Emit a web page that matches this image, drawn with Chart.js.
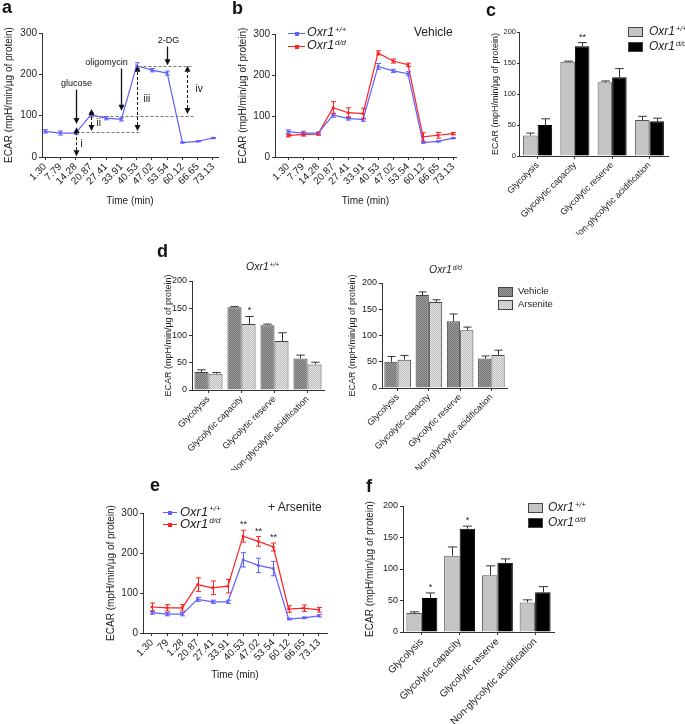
<!DOCTYPE html>
<html>
<head>
<meta charset="utf-8">
<script src="https://cdn.jsdelivr.net/npm/chart.js@4.4.0/dist/chart.umd.min.js"></script>
<style>
body{margin:0;background:#fff;font-family:"Liberation Sans",Arial,sans-serif;color:#222}
#fig{position:relative;width:685px;height:724px;overflow:hidden;background:#fff}
canvas{position:absolute}
.t{position:absolute;white-space:nowrap;line-height:1}
.sp{font-size:0.62em;position:relative;top:-0.55em;margin-left:1px}
.bx{position:absolute;border:1px solid #444;box-sizing:border-box}
.ln{position:absolute;height:1px}
.mk{position:absolute;width:4px;height:4px}
</style>
</head>
<body>
<div id="fig"></div>
<script>
// time points (min)
var timeLabels = ['1.30','7.79','14.28','20.87','27.41','33.91','40.53','47.02','53.54','60.12','66.65','73.13'];
var timeLabelsE = ['1.30','79','1.28','20.87','27.41','33.91','40.53','47.02','53.54','60.12','66.65','73.13'];

// ECAR traces, vehicle
var wtVehicle    = [62, 58, 58, 102, 94, 91, 221, 210, 203, 35, 38, 46];
var wtVehicleErr = [4, 5, 3, 5, 4, 4, 7, 4, 5, 1, 1, 1];
var ddVehicle    = [52, 55, 56, 120, 108, 106, 254, 234, 225, 49, 53, 57];
var ddVehicleErr = [3, 4, 3, 15, 12, 13, 5, 5, 4, 10, 7, 3];

// ECAR traces, arsenite
var wtArsenite    = [51, 47, 47, 84, 78, 78, 183, 169, 161, 35, 38, 43];
var wtArseniteErr = [4, 4, 4, 5, 4, 4, 18, 18, 18, 2, 2, 3];
var ddArsenite    = [65, 63, 63, 121, 113, 117, 242, 229, 215, 60, 62, 58];
var ddArseniteErr = [10, 8, 8, 17, 17, 17, 15, 12, 10, 8, 8, 6];
var ddArseniteSig = ['', '', '', '', '', '', '**', '**', '**', '', '', ''];

// glycolysis parameters
var params = ['Glycolysis', 'Glycolytic capacity', 'Glycolytic reserve', 'Non-glycolytic acidification'];
var wtVehPar    = [33, 152, 119, 58];
var wtVehParErr = [4, 1, 2, 6];
var ddVehPar    = [50, 177, 127, 56];
var ddVehParErr = [10, 6, 14, 5];
var ddVehParSig = ['', '**', '', ''];
var wtArsPar    = [30, 121, 90, 47];
var wtArsParErr = [2, 14, 15, 4];
var wtArsParSig = ['', '*', '', ''];
var ddArsPar    = [54, 164, 110, 63];
var ddArsParErr = [8, 4, 6, 9];
var fWtSig = ['', '', '', ''];
var fDdSig = ['*', '*', '', ''];

// panel a annotations: [text, text index, text value, arrow index, arrow from, arrow to]
var aInjections = [['glucose', 2, 177, 2, 163, 80], ['oligomycin', 4, 229, 5, 214, 112], ['2-DG', 8.05, 283, 8, 267, 222]];
// [text, index, from, to, text index, text value]
var aSpans = [['i', 2, 2, 72, 2.3, 30], ['ii', 3, 63, 116, 3.35, 82], ['iii', 6, 63, 221, 6.4, 140], ['iv', 9.3, 104, 221, 9.85, 163]];
// [value, from index, to index]
var aLevels = [[60, 2, 6.3], [100, 2.95, 9.8], [221, 6.1, 9.65]];

var BLUE = '#6060ff', RED = '#ff2020';
var FONT = '"Liberation Sans", Arial, Helvetica, sans-serif';
var YTITLE = 'ECAR (mpH/min/\u00b5g of protein)';
var fig = document.getElementById('fig');

Chart.defaults.font.family = FONT;
Chart.defaults.color = '#222';
Chart.defaults.animation = false;
Chart.defaults.plugins.legend.display = false;
Chart.defaults.plugins.tooltip.enabled = false;

function hatch(bg, fg) {
  var c = document.createElement('canvas');
  c.width = c.height = 4;
  var x = c.getContext('2d');
  x.fillStyle = bg; x.fillRect(0, 0, 4, 4);
  x.fillStyle = fg;
  for (var i = 0; i < 4; i++) for (var j = 0; j < 4; j++) if ((i + j) % 2 == 0) x.fillRect(i, j, 1, 1);
  return x.createPattern(c, 'repeat');
}
var VEH = hatch('#a0a0a0', '#707070');
var ARS = hatch('#e6e6e6', '#bcbcbc');

var errorBars = {
  id: 'errorBars',
  afterDatasetsDraw: function(chart) {
    var ctx = chart.ctx, y = chart.scales.y, isBar = chart.config.type == 'bar';
    chart.data.datasets.forEach(function(ds, di) {
      if (!ds.err) return;
      var meta = chart.getDatasetMeta(di);
      ctx.save();
      ctx.strokeStyle = ds.errColor || ds.borderColor;
      ctx.lineWidth = 1;
      meta.data.forEach(function(el, i) {
        var v = meta.controller.getParsed(i).y, e = ds.err[i];
        var x = Math.round(el.x) + 0.5;
        var top = y.getPixelForValue(v + e);
        var bot = isBar ? y.getPixelForValue(v) : y.getPixelForValue(v - e);
        var cap = isBar ? el.width * 0.3 : 2.5;
        if (e) {
          ctx.beginPath();
          ctx.moveTo(x, top); ctx.lineTo(x, bot);
          ctx.moveTo(x - cap, top); ctx.lineTo(x + cap, top);
          if (!isBar) { ctx.moveTo(x - cap, bot); ctx.lineTo(x + cap, bot); }
          ctx.stroke();
        }
        if (ds.sig && ds.sig[i]) {
          ctx.fillStyle = '#222';
          ctx.font = '9px ' + FONT;
          ctx.textAlign = 'center';
          ctx.textBaseline = 'bottom';
          ctx.fillText(ds.sig[i], x, top - 1);
        }
      });
      ctx.restore();
    });
  }
};

function head(ctx, x, y, dir) {
  ctx.beginPath();
  ctx.moveTo(x - 3, y - 6 * dir);
  ctx.lineTo(x + 3, y - 6 * dir);
  ctx.lineTo(x, y);
  ctx.closePath();
  ctx.fill();
}

var aNotes = {
  id: 'aNotes',
  afterDatasetsDraw: function(chart) {
    var ctx = chart.ctx, sx = chart.scales.x, sy = chart.scales.y;
    var X = function(v) { return Math.round(sx.getPixelForValue(v)) + 0.5; };
    var Y = function(v) { return sy.getPixelForValue(v); };
    ctx.save();
    ctx.lineWidth = 1;
    ctx.setLineDash([3, 2]);
    ctx.strokeStyle = '#777';
    aLevels.forEach(function(l) {
      ctx.beginPath(); ctx.moveTo(X(l[1]), Math.round(Y(l[0])) + 0.5); ctx.lineTo(X(l[2]), Math.round(Y(l[0])) + 0.5); ctx.stroke();
    });
    ctx.strokeStyle = '#111';
    ctx.fillStyle = '#111';
    ctx.font = '10px ' + FONT;
    ctx.textBaseline = 'middle';
    aSpans.forEach(function(s) {
      var x = X(s[1]), y0 = Y(s[2]), y1 = Y(s[3]);
      ctx.setLineDash([3, 2]);
      ctx.beginPath(); ctx.moveTo(x, y0 - 6); ctx.lineTo(x, y1 + 6); ctx.stroke();
      ctx.setLineDash([]);
      head(ctx, x, y0, 1);
      head(ctx, x, y1, -1);
      ctx.textAlign = 'left';
      ctx.fillText(s[0], X(s[4]), Y(s[5]));
    });
    ctx.setLineDash([]);
    ctx.lineWidth = 1.3;
    ctx.font = '9px ' + FONT;
    aInjections.forEach(function(a) {
      var x = X(a[3]);
      ctx.beginPath(); ctx.moveTo(x, Y(a[4])); ctx.lineTo(x, Y(a[5]) - 5); ctx.stroke();
      head(ctx, x, Y(a[5]), 1);
      ctx.textAlign = 'center';
      ctx.fillText(a[0], X(a[1]), Y(a[2]));
    });
    ctx.restore();
  }
};

function axisLine() {
  return { display: true, color: '#333', width: 1 };
}

function makeChart(o) {
  var cv = document.createElement('canvas');
  cv.width = o.box[2]; cv.height = o.box[3];
  cv.style.left = o.box[0] + 'px'; cv.style.top = o.box[1] + 'px';
  cv.style.width = o.box[2] + 'px'; cv.style.height = o.box[3] + 'px';
  fig.appendChild(cv);
  var L = o.plot[0], T = o.plot[1], R = o.plot[2], B = o.plot[3];
  var pad = {
    left: L - o.box[0] - o.wy,
    top: T - o.box[1],
    right: o.box[0] + o.box[2] - R,
    bottom: o.box[1] + o.box[3] - B - o.hx
  };
  var x = o.x;
  x.afterFit = function(s) { s.height = o.hx; };
  var y = {
    min: 0, max: o.ymax,
    ticks: { stepSize: o.ystep, padding: o.ypad || 2, font: { size: o.ytick }, color: '#222' },
    grid: { display: true, drawOnChartArea: false, tickLength: o.ytl || 3, color: '#333' },
    border: axisLine(),
    title: { display: true, text: YTITLE, padding: 0, font: { size: o.ytitle }, color: '#222' },
    afterFit: function(s) { s.width = o.wy; }
  };
  return new Chart(cv, {
    type: o.type,
    data: o.data,
    options: {
      responsive: false,
      layout: { padding: pad },
      scales: { x: x, y: y },
      elements: { line: { tension: 0 } }
    },
    plugins: o.plugins || [errorBars]
  });
}

function timeAxis(labels, min, max, title) {
  return {
    type: 'linear', min: min, max: max,
    afterBuildTicks: function(s) { s.ticks = labels.map(function(l, i) { return { value: i }; }); },
    ticks: {
      autoSkip: false, maxRotation: 45, minRotation: 45, padding: 1,
      font: { size: 10 }, color: '#222',
      callback: function(v) { return labels[v]; }
    },
    grid: { display: true, drawOnChartArea: false, tickLength: 3, color: '#333' },
    border: axisLine(),
    title: { display: title, text: 'Time (min)', padding: 0, font: { size: 10 }, color: '#222' }
  };
}

function paramAxis(size) {
  return {
    type: 'category',
    ticks: { autoSkip: false, maxRotation: 45, minRotation: 45, padding: 1, font: { size: size }, color: '#222' },
    grid: { display: true, drawOnChartArea: false, offset: false, tickLength: 3, color: '#333' },
    border: axisLine()
  };
}

function trace(vals, err, color, sig) {
  return {
    data: vals.map(function(v, i) { return { x: i, y: v }; }),
    err: err, sig: sig,
    borderColor: color, backgroundColor: color,
    borderWidth: 1.2, pointStyle: 'rect', pointRadius: 1.8, pointBorderWidth: 0
  };
}

function bars(vals, err, fill, border, sig, cat) {
  return {
    data: vals, err: err, sig: sig,
    backgroundColor: fill, borderColor: border, borderWidth: 1,
    errColor: '#333', categoryPercentage: cat, barPercentage: 1
  };
}

// panel a
makeChart({
  type: 'line', box: [0, 0, 232, 216], plot: [42, 33, 218, 157], wy: 39, hx: 50,
  ymax: 300, ystep: 100, ytick: 10, ytitle: 10,
  x: timeAxis(timeLabels, -0.2, 11.33, true),
  data: { datasets: [trace(wtVehicle, wtVehicleErr, BLUE)] },
  plugins: [errorBars, aNotes]
});

// panel b
makeChart({
  type: 'line', box: [230, 0, 235, 216], plot: [275, 34, 456, 157], wy: 38, hx: 50,
  ymax: 300, ystep: 100, ytick: 10, ytitle: 10,
  x: timeAxis(timeLabels, -0.87, 11.2, true),
  data: { datasets: [trace(wtVehicle, wtVehicleErr, BLUE), trace(ddVehicle, ddVehicleErr, RED)] }
});

// panel c
makeChart({
  type: 'bar', box: [455, 0, 230, 235], plot: [519, 32, 668, 156], wy: 29, hx: 79,
  ymax: 200, ystep: 50, ytick: 7.5, ytitle: 9, ypad: 1, ytl: 2,
  x: paramAxis(9),
  data: { labels: params, datasets: [
    bars(wtVehPar, wtVehParErr, '#c4c4c4', '#555', null, 0.78),
    bars(ddVehPar, ddVehParErr, '#000', '#000', ddVehParSig, 0.78)
  ] }
});

// panel d, Oxr1+/+
makeChart({
  type: 'bar', box: [155, 250, 190, 220], plot: [192, 281, 324, 390], wy: 29, hx: 80,
  ymax: 200, ystep: 50, ytick: 9, ytitle: 9,
  x: paramAxis(9),
  data: { labels: params, datasets: [
    bars(wtVehPar, wtVehParErr, VEH, '#444', null, 0.85),
    bars(wtArsPar, wtArsParErr, ARS, '#444', wtArsParSig, 0.85)
  ] }
});

// panel d, Oxr1d/d
makeChart({
  type: 'bar', box: [340, 250, 180, 220], plot: [382, 283, 507, 388], wy: 35, hx: 82,
  ymax: 200, ystep: 50, ytick: 9, ytitle: 9,
  x: paramAxis(9),
  data: { labels: params, datasets: [
    bars(ddVehPar, ddVehParErr, VEH, '#444', null, 0.85),
    bars(ddArsPar, ddArsParErr, ARS, '#444', null, 0.85)
  ] }
});

// panel e
makeChart({
  type: 'line', box: [100, 470, 240, 254], plot: [143, 513, 327, 633], wy: 38, hx: 48,
  ymax: 300, ystep: 100, ytick: 10, ytitle: 10,
  x: timeAxis(timeLabelsE, -0.59, 11.53, true),
  data: { datasets: [trace(wtArsenite, wtArseniteErr, BLUE), trace(ddArsenite, ddArseniteErr, RED, ddArseniteSig)] }
});

// panel f
makeChart({
  type: 'bar', box: [355, 470, 215, 254], plot: [403, 506, 554, 632], wy: 39, hx: 92,
  ymax: 200, ystep: 50, ytick: 9, ytitle: 10,
  x: paramAxis(10),
  data: { labels: params, datasets: [
    bars(wtArsPar, wtArsParErr, '#c4c4c4', '#555', fWtSig, 0.82),
    bars(ddArsPar, ddArsParErr, '#000', '#000', fDdSig, 0.82)
  ] }
});

// html text: panel letters, legends, titles
function txt(html, left, cy, size, css) {
  var d = document.createElement('div');
  d.className = 't';
  d.innerHTML = html;
  d.style.left = left + 'px';
  d.style.top = (cy - size * 0.55) + 'px';
  d.style.fontSize = size + 'px';
  if (css) d.style.cssText += css;
  fig.appendChild(d);
  return d;
}
function el(cls, css) {
  var d = document.createElement('div');
  d.className = cls;
  d.style.cssText = css;
  fig.appendChild(d);
}
var WT = '<i>Oxr1</i><span class="sp"><i>+/+</i></span>';
var DD = '<i>Oxr1</i><span class="sp"><i>d/d</i></span>';

function lineKey(x0, x1, y, color) {
  el('ln', 'left:' + x0 + 'px;top:' + y + 'px;width:' + (x1 - x0) + 'px;background:' + color);
  el('mk', 'left:' + ((x0 + x1) / 2 - 2) + 'px;top:' + (y - 1.5) + 'px;background:' + color);
}
function boxKey(x, y, fill) {
  el('bx', 'left:' + x + 'px;top:' + y + 'px;width:15px;height:10px;background:' + fill);
}

var letters = [['a', 2, 8], ['b', 232, 9], ['c', 486, 11], ['d', 157, 252], ['e', 150, 486], ['f', 366, 487]];
letters.forEach(function(l) { txt(l[0], l[1], l[2], 18, 'font-weight:bold;color:#111'); });

// b legend
lineKey(288, 305, 33, BLUE); txt(WT, 307, 33, 12.5);
lineKey(288, 305, 46, RED); txt(DD, 307, 46, 12.5);
txt('Vehicle', 414, 33, 12);

// c legend
boxKey(628, 27, '#c4c4c4'); txt(WT, 649, 32, 12);
boxKey(628, 42, '#000'); txt(DD, 649, 47, 12);

// d titles and legend
txt(WT, 246, 267, 10.5);
txt(DD, 429, 270, 10.5);
boxKey(498, 287, 'repeating-conic-gradient(#707070 0 25%, #a0a0a0 0 50%) 0 0/2px 2px'); txt('Vehicle', 518, 291.5, 9.5);
boxKey(498, 300, 'repeating-conic-gradient(#bcbcbc 0 25%, #e6e6e6 0 50%) 0 0/2px 2px'); txt('Arsenite', 518, 304.5, 9.5);

// e legend
lineKey(163, 177, 512, BLUE); txt(WT, 180, 512, 13);
lineKey(163, 177, 524, RED); txt(DD, 180, 524, 13);
txt('+ Arsenite', 268, 508, 12);

// f legend
boxKey(528, 503, '#c4c4c4'); txt(WT, 548, 507.5, 12);
boxKey(528, 518, '#000'); txt(DD, 548, 522.5, 12);
</script>
</body>
</html>
